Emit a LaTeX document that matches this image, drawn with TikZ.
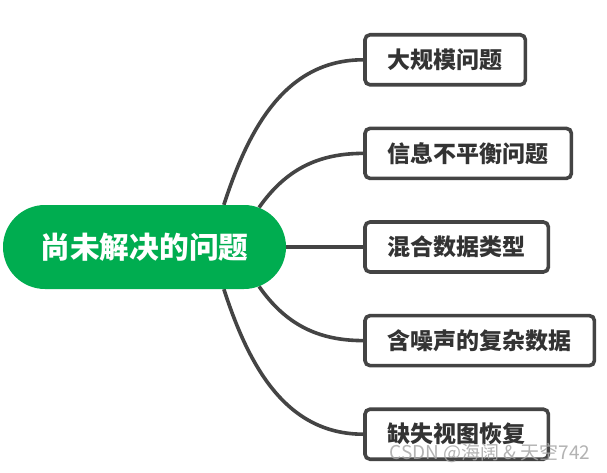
\documentclass[tikz,border=0pt]{standalone}
\usepackage{fontspec}
\newfontfamily\cjk{Noto Sans CJK SC}
\usetikzlibrary{positioning, shapes.misc, backgrounds}
\definecolor{mindgreen}{RGB}{0, 173, 80}
\definecolor{linegray}{RGB}{68, 68, 68}
\definecolor{textgray}{RGB}{51, 51, 51}

\begin{document}
\begin{tikzpicture}[
        x=1pt, y=1pt,
        rootbox/.style={rounded rectangle, fill=mindgreen, minimum width=283pt, minimum height=84pt, inner sep=0pt, text=white, font=\cjk\bfseries\fontsize{29.7}{30}\selectfont},
        topicbox/.style={draw=linegray, line width=3.6pt, rounded corners=5pt, fill=white, minimum height=50pt, inner xsep=22.7pt, text=textgray, font=\cjk\bfseries\fontsize{23}{23}\selectfont},
        branch/.style={linegray, line width=3.6pt}
    ]
    \useasboundingbox (0,0) rectangle (607,472);

    % Central topic
    \node[rootbox] (root) at (144.5,225) {尚未解决的问题};

    % Sub topics
    \node[topicbox, right=77pt of root] (mixed) {混合数据类型};
    \node[topicbox, above=40pt of mixed.north west, anchor=south west] (imbalance) {信息不平衡问题};
    \node[topicbox, above=40pt of imbalance.north west, anchor=south west] (large) {大规模问题};
    \node[topicbox, below=40pt of mixed.south west, anchor=north west] (noisy) {含噪声的复杂数据};
    \node[topicbox, below=40pt of noisy.south west, anchor=north west] (missing) {缺失视图恢复};

    % Branches
    \begin{scope}[on background layer]
        \fill[white] (0,0) rectangle (607,472);
        \draw[branch] (root.28) to[out=72, in=180] (large.west);
        \draw[branch] (root.19) to[out=55, in=180] (imbalance.west);
        \draw[branch] (root.east) -- (mixed.west);
        \draw[branch] (root.-19) to[out=-55, in=180] (noisy.west);
        \draw[branch] (root.-28) to[out=-72, in=180] (missing.west);
    \end{scope}

    \node[anchor=base east, text=gray!70, opacity=0.85, font=\cjk\fontsize{19}{19}\selectfont] (watermark) at (594,13) {CSDN @海阔 \& 天空742};
\end{tikzpicture}
\end{document}
